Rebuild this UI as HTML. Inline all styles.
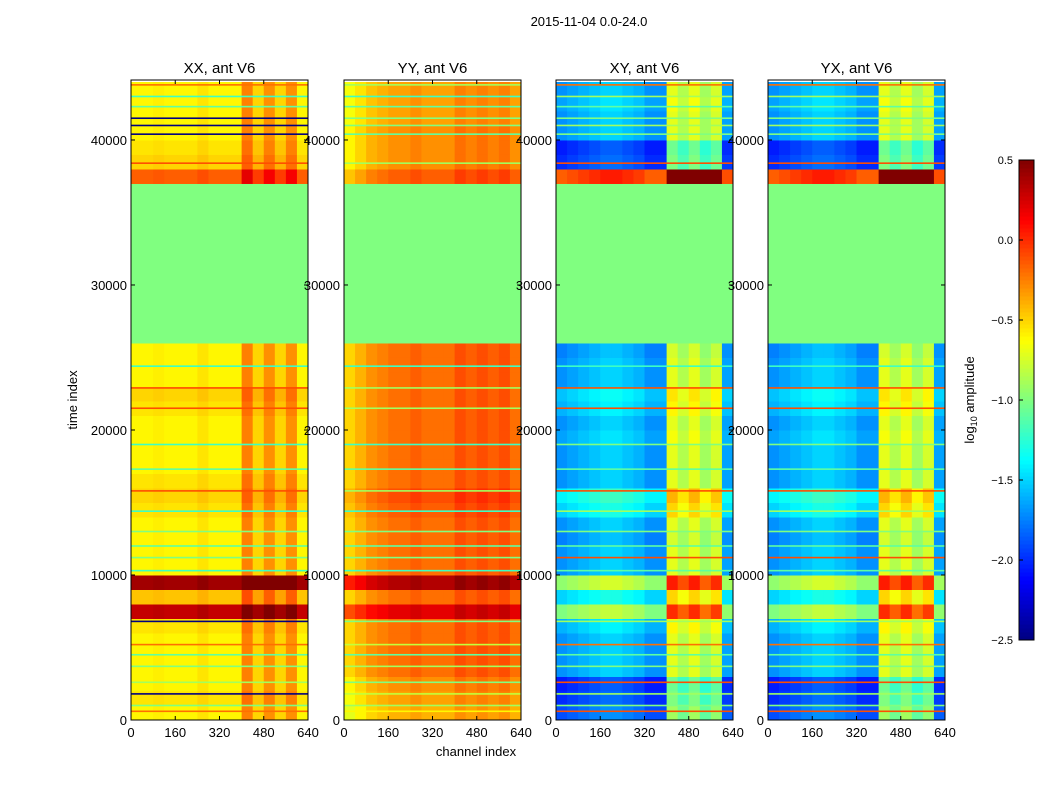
<!DOCTYPE html>
<html><head><meta charset="utf-8">
<style>
body{margin:0;background:#fff;font-family:"Liberation Sans",sans-serif;}
svg text{font-family:"Liberation Sans",sans-serif;}
</style></head>
<body>
<svg id="fig" width="1050" height="800" xmlns="http://www.w3.org/2000/svg">
<rect width="1050" height="800" fill="#fff"/>
<text x="589" y="26" text-anchor="middle" font-size="13">2015-11-04 0.0-24.0</text>
<text x="0" y="0" transform="translate(77,400) rotate(-90)" text-anchor="middle" font-size="13">time index</text>
<text x="476" y="756" text-anchor="middle" font-size="13">channel index</text>
<text x="0" y="0" transform="translate(974,400) rotate(-90)" text-anchor="middle" font-size="13">log<tspan font-size="9" dy="3">10</tspan><tspan dy="-3"> amplitude</tspan></text>
<g id="panels"></g>
<g id="cbar"></g>
</svg>
<script>
const panelTitles = ["XX, ant V6","YY, ant V6","XY, ant V6","YX, ant V6"];
const timeBinSize = 1000;
// per-panel time-bin base values (null = flagged / constant)
const xxTime = [-0.6,-0.55,-0.6,-0.6,-0.6,-0.6,-0.55,0.3,-0.45,0.4,-0.6,-0.6,-0.6,-0.6,-0.55,-0.5,-0.55,-0.6,-0.6,-0.6,-0.6,-0.55,-0.5,-0.6,-0.6,-0.6,null,null,null,null,null,null,null,null,null,null,null,-0.15,-0.5,-0.55,-0.6,-0.6,-0.6,-0.6];
const yyTime = [-0.4,-0.35,-0.3,-0.2,-0.2,-0.2,-0.2,0.2,-0.2,0.35,-0.2,-0.2,-0.2,-0.2,-0.15,-0.1,-0.2,-0.2,-0.2,-0.2,-0.2,-0.2,-0.2,-0.2,-0.2,-0.2,null,null,null,null,null,null,null,null,null,null,null,-0.15,-0.3,-0.3,-0.3,-0.35,-0.35,-0.35];
const xyTime = [-1.9,-2.0,-2.05,-1.7,-1.7,-1.7,-1.6,-1.0,-1.5,-0.95,-1.7,-1.7,-1.75,-1.7,-1.5,-1.4,-1.7,-1.7,-1.7,-1.65,-1.7,-1.6,-1.55,-1.7,-1.7,-1.75,null,null,null,null,null,null,null,null,null,null,null,-0.15,-2.0,-2.05,-1.7,-1.7,-1.65,-1.7];
const yxTime = [-1.9,-2.0,-2.05,-1.7,-1.7,-1.7,-1.6,-1.0,-1.5,-0.95,-1.7,-1.7,-1.75,-1.7,-1.5,-1.4,-1.7,-1.7,-1.7,-1.65,-1.7,-1.6,-1.55,-1.7,-1.7,-1.75,null,null,null,null,null,null,null,null,null,null,null,-0.15,-2.0,-2.05,-1.7,-1.7,-1.65,-1.7];
const chanBinSize = 40;
const xxChan = [0,0,0.02,0,0,0,0.05,0,0,0,0.35,0.1,0.3,0.1,0.3,0];
const yyChan = [-0.3,-0.2,-0.1,-0.05,0,0,0.05,0,0,0,0.1,0.05,0.1,0.05,0.1,0];
const xyChan = [0.0,0.05,0.1,0.15,0.2,0.2,0.15,0.1,0,0,1.0,0.85,1.0,0.8,0.95,0.05];
const yxChan = [0.0,0.05,0.1,0.15,0.2,0.2,0.15,0.1,0,0,1.0,0.85,1.0,0.8,0.95,0.05];
const panelTime = [xxTime,yyTime,xyTime,yxTime];
const panelChan = [xxChan,yyChan,xyChan,yxChan];
// thin horizontal stripes: time position and per-panel value
const stripeTimes = [600,1000,1800,2600,3700,4500,5200,6800,10300,11200,12000,13000,14400,15800,17300,19000,21500,22900,24400,38400,40400,41000,41500,42300,43000,43800];
const xxStripe = [-0.2,-1.0,-2.5,-0.9,-1.0,-1.1,-0.2,-2.5,-1.2,-1.0,-1.1,-1.0,-1.2,-0.1,-1.1,-1.2,-0.1,-0.1,-1.2,-0.1,-2.5,-2.5,-2.5,-1.1,-1.2,-0.2];
const yyStripe = [-0.6,-0.9,-0.8,-1.0,-0.9,-1.1,-0.8,-1.0,-1.2,-1.0,-1.1,-1.0,-1.2,-0.9,-1.1,-1.2,-0.9,-0.9,-1.2,-0.9,-1.1,-1.0,-1.0,-1.1,-1.2,-0.9];
const xyStripe = [-0.1,-1.0,-0.9,-0.1,-1.0,-1.1,-0.2,-0.9,-1.1,-0.1,-1.1,-1.0,-0.9,-0.1,-1.1,-1.0,-0.1,-0.1,-1.2,-0.1,-1.0,-0.9,-1.0,-1.1,-0.9,-0.2];
const yxStripe = [-0.1,-1.0,-0.9,-0.1,-1.0,-1.1,-0.2,-0.9,-1.1,-0.1,-1.1,-1.0,-0.9,-0.1,-1.1,-1.0,-0.1,-0.1,-1.2,-0.1,-1.0,-0.9,-1.0,-1.1,-0.9,-0.2];
const panelStripe = [xxStripe,yyStripe,xyStripe,yxStripe];
const flaggedValue = -1.0;
const xTicks = [0,160,320,480,640];
const yTicks = [0,10000,20000,30000,40000];
const cbTicks = [0.5,0.0,-0.5,-1.0,-1.5,-2.0,-2.5];
const cbLabels = ["0.5","0.0","\u22120.5","\u22121.0","\u22121.5","\u22122.0","\u22122.5"];

const NS="http://www.w3.org/2000/svg";
const panelX=[131,344,556,768], PW=177, PT=80, PB=720;
const tMax=44136, cMax=640, vMin=-2.5, vMax=0.5;
function ys(t){return PB-(t/tMax)*(PB-PT);}
function xs(px,c){return px+(c/cMax)*PW;}
function jet(v){
  let x=(v-vMin)/(vMax-vMin); x=Math.max(0,Math.min(1,x));
  const f=(a)=>Math.max(0,Math.min(1,a));
  const r=f(1.5-Math.abs(4*x-3)), g=f(1.5-Math.abs(4*x-2)), b=f(1.5-Math.abs(4*x-1));
  return `rgb(${Math.round(r*255)},${Math.round(g*255)},${Math.round(b*255)})`;
}
function mk(tag,attrs,parent){const e=document.createElementNS(NS,tag);for(const k in attrs)e.setAttribute(k,attrs[k]);parent.appendChild(e);return e;}
const root=document.getElementById('panels');
panelTitles.forEach((title,p)=>{
  const px=panelX[p];
  const g=mk('g',{},root);
  
  
  const tv=panelTime[p], cv=panelChan[p];
  tv.forEach((base,i)=>{
    const y0=ys((i+1)*timeBinSize), y1=ys(i*timeBinSize);
    cv.forEach((off,j)=>{
      const val = base===null ? flaggedValue : base+off;
      const x0=xs(px,j*chanBinSize), x1=xs(px,(j+1)*chanBinSize);
      const r=mk('rect',{x:x0,y:y0,width:x1-x0+0.5,height:y1-y0+0.5,fill:jet(val)},g);
      
      
    });
  });
  panelStripe[p].forEach((v,k)=>{
    const y=ys(stripeTimes[k]);
    const s=mk('rect',{x:px,y:y-0.8,width:PW,height:1.6,fill:jet(v)},g);
    
    
  });
  const fr=mk('rect',{x:px,y:PT,width:PW,height:PB-PT,fill:'none',stroke:'#000','stroke-width':1},g);
  
  
  const tt=mk('text',{x:px+PW/2,y:73,'text-anchor':'middle','font-size':15},g);
  tt.textContent=title;
  
  
  xTicks.forEach(c=>{
    const x=xs(px,c);
    mk('line',{x1:x,x2:x,y1:PB,y2:PB-4,stroke:'#000'},g);
    mk('line',{x1:x,x2:x,y1:PT,y2:PT+4,stroke:'#000'},g);
    const t=mk('text',{x:x,y:PB+17,'text-anchor':'middle','font-size':13},g);
    t.textContent=c;
    
    
  });
  yTicks.forEach(v=>{
    const y=ys(v);
    mk('line',{x1:px,x2:px+4,y1:y,y2:y,stroke:'#000'},g);
    mk('line',{x1:px+PW,x2:px+PW-4,y1:y,y2:y,stroke:'#000'},g);
    const t=mk('text',{x:px-4,y:y+5,'text-anchor':'end','font-size':13},g);
    t.textContent=v;
    
    
  });
});
// colorbar
const cb=document.getElementById('cbar');


const CX=1019,CW=15,CT=160,CB=640;
for(let i=0;i<120;i++){
  const v0=vMin+(i/120)*(vMax-vMin);
  const y=CB-(i+1)*(CB-CT)/120;
  mk('rect',{x:CX,y:y,width:CW,height:(CB-CT)/120+0.5,fill:jet(v0+0.0125)},cb);
}
mk('rect',{x:CX,y:CT,width:CW,height:CB-CT,fill:'none',stroke:'#000'},cb);
cbTicks.forEach((v,i)=>{
  const y=CB-(v-vMin)/(vMax-vMin)*(CB-CT);
  mk('line',{x1:CX,x2:CX+4,y1:y,y2:y,stroke:'#000'},cb);
  const t=mk('text',{x:CX-6,y:y+4,'text-anchor':'end','font-size':11},cb);
  t.textContent=cbLabels[i];
  
  
});
</script>
</body></html>
